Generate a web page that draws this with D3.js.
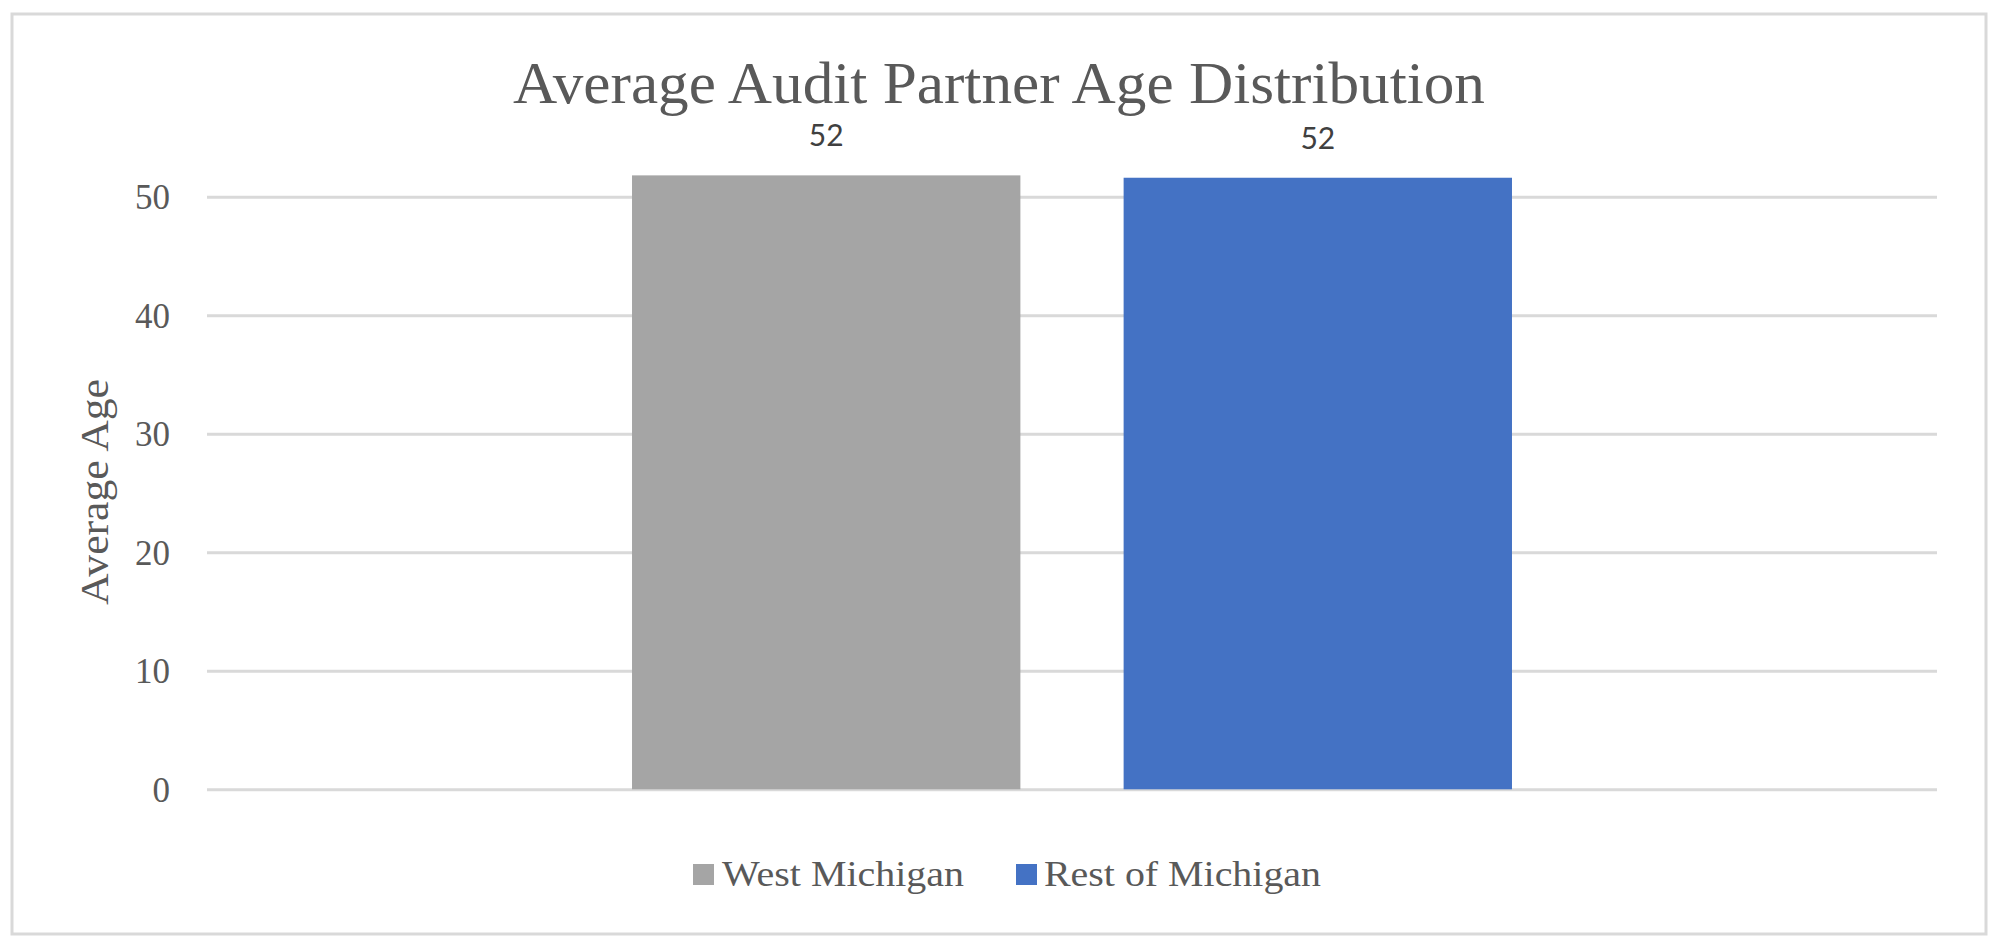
<!DOCTYPE html>
<html>
<head>
<meta charset="utf-8">
<script src="https://cdn.jsdelivr.net/npm/d3@7"></script>
<style>
  html, body { margin: 0; padding: 0; background: #fff; }
  svg { display: block; }
</style>
</head>
<body>
<script>
// ---- data ----
const categories = ["Average Age"];
const seriesNames = ["West Michigan", "Rest of Michigan"];
const seriesValues = [51.8, 51.6];
const valueLabels = ["52", "52"];
const tickValues = [0, 10, 20, 30, 40, 50];
const seriesColors = ["#a5a5a5", "#4472c4"];

const W = 2000, H = 948;
const svg = d3.select("body").append("svg").attr("width", W).attr("height", H);

// outer border
svg.append("rect")
  .attr("x", 12).attr("y", 14).attr("width", 1974).attr("height", 920)
  .attr("fill", "#fff").attr("stroke", "#d9d9d9").attr("stroke-width", 3);

const plotL = 207, plotR = 1937;
const y = d3.scaleLinear().domain([0, 50]).range([789.3, 196.7]);

const x0 = d3.scaleBand().domain(categories).range([plotL, plotR])
  .paddingInner(0).paddingOuter(0.483);
const x1 = d3.scaleBand().domain(seriesNames).range([0, x0.bandwidth()])
  .paddingInner(0.21).paddingOuter(0);

// gridlines + y axis labels via axis
const yAxis = d3.axisLeft(y).tickValues(tickValues).tickSize(-(plotR - plotL)).tickPadding(37).tickFormat(d3.format("d"));
const gy = svg.append("g").attr("transform", `translate(${plotL},0)`).call(yAxis);
gy.select(".domain").remove();
gy.selectAll(".tick line").attr("stroke", "#d9d9d9").attr("stroke-width", 3);
gy.selectAll(".tick text")
  .attr("fill", "#595959")
  .style("font-family", "'Liberation Serif', 'Times New Roman', serif")
  .style("font-size", "35px")
  .attr("dy", "0.34em");

// bars
const data = seriesNames.map((s, i) => ({ cat: categories[0], name: s, value: seriesValues[i], label: valueLabels[i], color: seriesColors[i] }));
const g = svg.append("g");
g.selectAll("rect.bar").data(data).enter().append("rect")
  .attr("class", "bar")
  .attr("x", d => x0(d.cat) + x1(d.name))
  .attr("width", x1.bandwidth())
  .attr("y", d => y(d.value))
  .attr("height", d => y(0) - y(d.value))
  .attr("fill", d => d.color);

// value labels
g.selectAll("text.vl").data(data).enter().append("text")
  .attr("class", "vl")
  .attr("x", d => x0(d.cat) + x1(d.name) + x1.bandwidth() / 2)
  .attr("y", d => y(d.value) - 29)
  .attr("text-anchor", "middle")
  .attr("fill", "#404040")
  .style("font-family", "Lato, 'Open Sans', sans-serif")
  .style("font-size", "30px")
  .text(d => d.label);

// title
svg.append("text")
  .attr("x", 513).attr("y", 103)
  .attr("textLength", 972).attr("lengthAdjust", "spacingAndGlyphs")
  .attr("fill", "#595959")
  .style("font-family", "'Liberation Serif', 'Times New Roman', serif")
  .style("font-size", "60px")
  .text("Average Audit Partner Age Distribution");

// y axis title
svg.append("text")
  .attr("transform", "translate(108,492) rotate(-90)")
  .attr("text-anchor", "middle")
  .attr("textLength", 226).attr("lengthAdjust", "spacingAndGlyphs")
  .attr("fill", "#595959")
  .style("font-family", "'Liberation Serif', 'Times New Roman', serif")
  .style("font-size", "40px")
  .text("Average Age");

// legend
const legendItems = [
  { name: seriesNames[0], color: seriesColors[0], sx: 693, tx: 722, tw: 242 },
  { name: seriesNames[1], color: seriesColors[1], sx: 1016, tx: 1044, tw: 277 }
];
const lg = svg.append("g");
legendItems.forEach(it => {
  lg.append("rect").attr("x", it.sx).attr("y", 864).attr("width", 21).attr("height", 21).attr("fill", it.color);
  lg.append("text").attr("x", it.tx).attr("y", 886)
    .attr("textLength", it.tw).attr("lengthAdjust", "spacingAndGlyphs")
    .attr("fill", "#595959")
    .style("font-family", "'Liberation Serif', 'Times New Roman', serif")
    .style("font-size", "35px")
    .text(it.name);
});
</script>
</body>
</html>
